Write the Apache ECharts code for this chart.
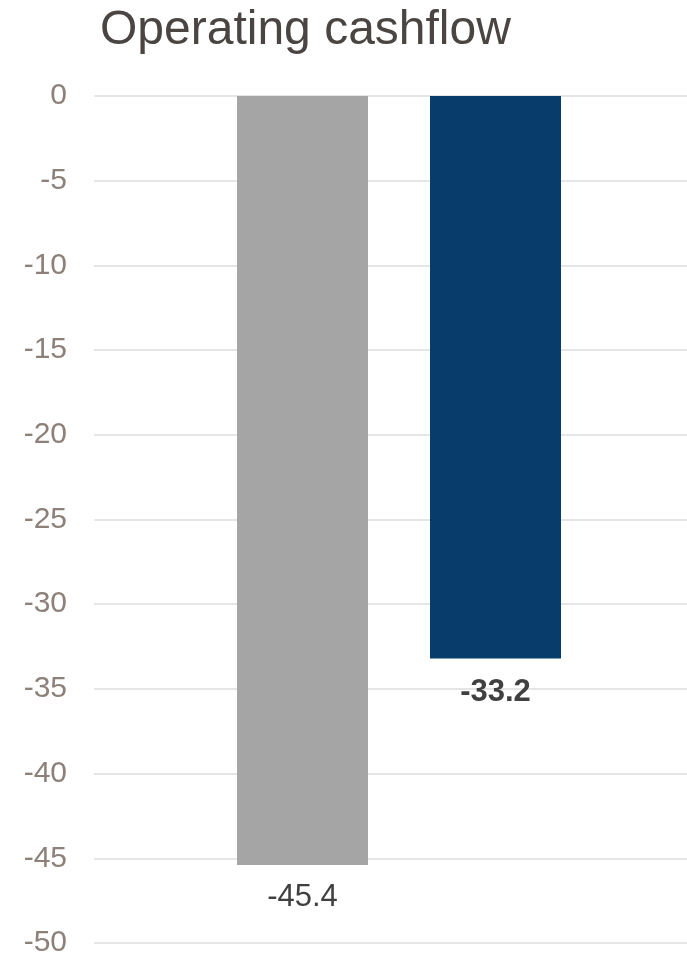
<!DOCTYPE html>
<html>
<head>
<meta charset="utf-8">
<script src="https://cdn.jsdelivr.net/npm/echarts@6/dist/echarts.min.js"></script>
<style>
  html, body { margin: 0; padding: 0; background: #ffffff; }
  #chart { width: 687px; height: 958px; }
</style>
</head>
<body>
<div id="chart"></div>
<script>
// Operating cashflow, two periods
const categories = ['Prior period', 'Current period'];
const cashflowValues = [-45.4, -33.2];
const barColors = ['#a5a5a5', '#083c6a'];
const labelWeights = ['normal', 'bold'];
const yTicks = { min: -50, max: 0, interval: 5 };

const FONT = '"Liberation Sans", Arial, sans-serif';
const chart = echarts.init(document.getElementById('chart'), null, { renderer: 'canvas' });

const barData = cashflowValues.map((v, i) => ({
  value: v,
  itemStyle: { color: barColors[i] },
  label: { fontWeight: labelWeights[i], distance: i === 0 ? 17 : 19 }
}));

chart.setOption({
  animation: false,
  title: {
    text: 'Operating cashflow',
    left: 95,
    top: 2,
    textStyle: { fontFamily: FONT, fontSize: 48, fontWeight: 'normal', color: '#4a4542' }
  },
  grid: [
    // full-width grid carrying the horizontal rules and tick labels
    { left: 94, right: 0, top: 96, bottom: 15, containLabel: false },
    // grid holding the bars
    { left: 206, right: 95, top: 96, bottom: 15, containLabel: false }
  ],
  xAxis: [
    { type: 'category', gridIndex: 0, data: [''], show: false },
    { type: 'category', gridIndex: 1, data: categories, show: false }
  ],
  yAxis: [
    {
      type: 'value', gridIndex: 0,
      min: yTicks.min, max: yTicks.max, interval: yTicks.interval,
      axisLine: { show: false }, axisTick: { show: false },
      axisLabel: { fontFamily: FONT, fontSize: 30, color: '#8c8079', margin: 27 },
      splitLine: { lineStyle: { color: '#e5e5e5', width: 2 } }
    },
    {
      type: 'value', gridIndex: 1,
      min: yTicks.min, max: yTicks.max, interval: yTicks.interval,
      show: false, splitLine: { show: false }
    }
  ],
  series: [{
    type: 'bar',
    xAxisIndex: 1, yAxisIndex: 1,
    barWidth: 131,
    data: barData,
    label: {
      show: true,
      position: 'bottom',
      fontFamily: FONT,
      fontSize: 31,
      color: '#404040',
      formatter: p => p.value.toFixed(1)
    }
  }]
});
</script>
</body>
</html>
